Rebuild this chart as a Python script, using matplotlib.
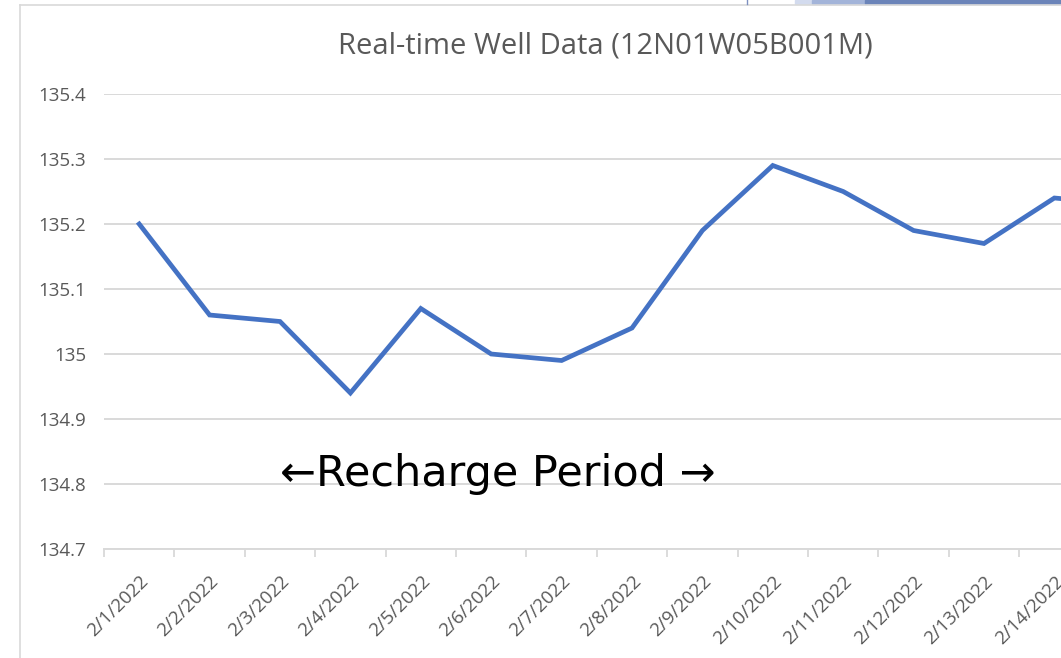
import matplotlib
matplotlib.use("Agg")
import matplotlib.pyplot as plt
from matplotlib.lines import Line2D
from matplotlib.patches import Rectangle

# data (2/15 is mostly cut off at the right edge)
dates = ["2/1/2022", "2/2/2022", "2/3/2022", "2/4/2022", "2/5/2022",
         "2/6/2022", "2/7/2022", "2/8/2022", "2/9/2022", "2/10/2022",
         "2/11/2022", "2/12/2022", "2/13/2022", "2/14/2022", "2/15/2022"]
levels = [135.20, 135.06, 135.05, 134.94, 135.07,
          135.00, 134.99, 135.04, 135.19, 135.29,
          135.25, 135.19, 135.17, 135.24, 135.23]
yticks = [134.7, 134.8, 134.9, 135.0, 135.1, 135.2, 135.3, 135.4]
ytick_labels = ["134.7", "134.8", "134.9", "135", "135.1", "135.2", "135.3", "135.4"]

W, H = 1061, 658
fig = plt.figure(figsize=(W / 100, H / 100), dpi=100)
fig.patch.set_facecolor("white")

grid_col = "#d9d9d9"
text_col = "#595959"

# plot area runs past the right edge of the screenshot
x0, x1 = 104, 104 + 15 * 70.4
ytop, ybot = 94, 549
ax = fig.add_axes([x0 / W, (H - ybot) / H, (x1 - x0) / W, (ybot - ytop) / H])

xs = list(range(len(dates)))
ax.plot(xs, levels, color="#4472C4", linewidth=3.4, solid_joinstyle="miter", zorder=3)

ax.set_xlim(-0.5, len(dates) - 0.5)
ax.set_ylim(134.7, 135.4)
ax.set_yticks(yticks)
ax.set_yticklabels(ytick_labels, fontfamily="Open Sans", fontsize=13.5, color=text_col)
ax.tick_params(axis="y", length=0, pad=13)

# category ticks sit on the boundaries, labels in the middle
ax.set_xticks([x - 0.5 for x in xs] + [len(dates) - 0.5])
ax.set_xticks(xs, minor=True)
ax.set_xticklabels([])
ax.set_xticklabels(dates, minor=True, rotation=45, ha="right", rotation_mode="anchor",
                   fontfamily="Open Sans", fontsize=13.5, color=text_col)
ax.tick_params(axis="x", which="major", length=6, width=1.3, color=grid_col)
ax.tick_params(axis="x", which="minor", length=0, pad=17)

ax.grid(axis="y", color=grid_col, linewidth=1.4)
ax.set_axisbelow(True)
for s in ["top", "right", "left"]:
    ax.spines[s].set_visible(False)
ax.spines["bottom"].set_color(grid_col)
ax.spines["bottom"].set_linewidth(1.4)

fig.text(605 / W, 1 - 46 / H, "Real-time Well Data (12N01W05B001M)",
         ha="center", va="center", fontfamily="Open Sans", fontsize=21, color=text_col)

fig.text(498 / W, 1 - 474 / H, "\u2190Recharge Period \u2192",
         ha="center", va="center", fontfamily="DejaVu Sans", fontsize=31, color="black")

# chart area outline and the bit of window chrome at the top
fig.add_artist(Line2D([20 / W, 20 / W], [0, 1 - 5 / H], color=grid_col, linewidth=1.2))
fig.add_artist(Line2D([20 / W, 1], [1 - 5 / H, 1 - 5 / H], color=grid_col, linewidth=1.2))
fig.add_artist(Rectangle((795 / W, 1 - 4 / H), 17 / W, 4 / H, color="#d3dbee", transform=fig.transFigure))
fig.add_artist(Rectangle((812 / W, 1 - 4 / H), 53 / W, 4 / H, color="#a3b4d9", transform=fig.transFigure))
fig.add_artist(Rectangle((865 / W, 1 - 4 / H), 196 / W, 4 / H, color="#6b84b9", transform=fig.transFigure))
fig.add_artist(Line2D([747 / W, 747 / W], [1 - 4 / H, 1], color="#7d8fc0", linewidth=1))

fig.savefig("out.png", dpi=100)
